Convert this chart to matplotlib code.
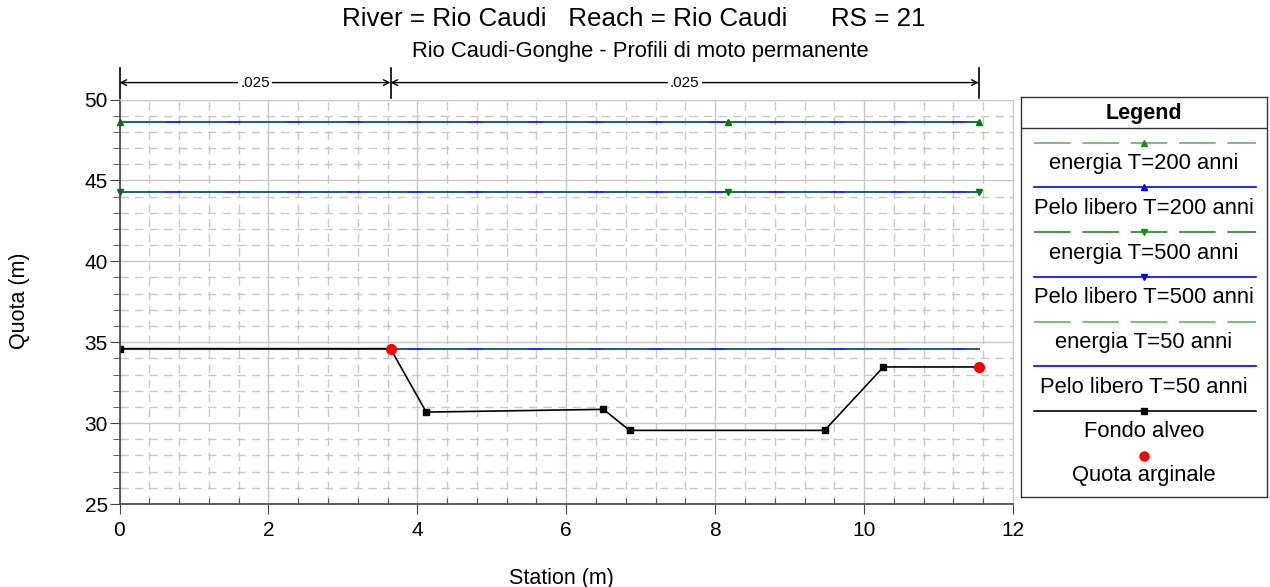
import numpy as np
import matplotlib
matplotlib.use('Agg')
import matplotlib.pyplot as plt
from matplotlib.ticker import MultipleLocator

plt.rcParams['font.family'] = ['Liberation Sans', 'DejaVu Sans']

# cross section data
station = [0.0, 3.64, 4.12, 6.50, 6.85, 9.47, 10.26, 11.54]
fondo = [34.60, 34.60, 30.68, 30.85, 29.55, 29.55, 33.47, 33.47]
argine_x = [3.64, 11.54]
argine_y = [34.60, 33.47]

# water surface / energy levels
ws_x = [0.0, 8.17, 11.54]
ws_200 = 48.62
ws_500 = 44.26
ws_50 = 34.60
en_200 = 48.62
en_500 = 44.26
en_50 = 34.60

# manning's n
n_breaks = [0.0, 3.64, 11.54]
n_values = ['.025', '.025']

fig = plt.figure(figsize=(12.7, 5.87), dpi=100)
ax = fig.add_axes([119.5 / 1270, 83 / 587, 893.5 / 1270, 404.5 / 587])

ax.set_xlim(0, 12)
ax.set_ylim(25, 50)
ax.xaxis.set_major_locator(MultipleLocator(2))
ax.xaxis.set_minor_locator(MultipleLocator(0.4))
ax.yaxis.set_major_locator(MultipleLocator(5))
ax.yaxis.set_minor_locator(MultipleLocator(1))

ax.grid(which='major', color='#c8c8c8', lw=1.0, ls='-')
ax.grid(which='minor', color='#c8c8c8', lw=1.0, ls=(0, (6, 4.5)))
ax.set_axisbelow(True)

for s in ['top', 'right']:
    ax.spines[s].set_color('#c8c8c8')
for s in ['left', 'bottom']:
    ax.spines[s].set_color('#444444')
    ax.spines[s].set_linewidth(1.2)

ax.tick_params(axis='both', which='major', labelsize=15, length=7,
               color='#444444', direction='out')
ax.tick_params(axis='y', which='major', pad=1.5)
ax.tick_params(axis='x', which='major', pad=5)
ax.tick_params(axis='x', which='minor', direction='in', length=4.5,
               color='#444444')
ax.tick_params(axis='y', which='minor', direction='out', length=5,
               color='#444444')

green = '#1f8a1f'
lgreen = '#5cb85c'
blue = '#0000ff'
dash = (0, (22, 7))

xs = [ws_x[0], ws_x[-1]]
# water surfaces
ax.plot(xs, [ws_200, ws_200], color=blue, lw=1.2)
ax.plot(xs, [ws_500, ws_500], color=blue, lw=1.2)
ax.plot(xs, [ws_50, ws_50], color=blue, lw=1.2)
# energy lines
ax.plot(xs, [en_200, en_200], color=green, lw=1.5, ls=dash, alpha=0.6)
ax.plot(xs, [en_500, en_500], color=green, lw=1.5, ls=dash, alpha=0.6)
ax.plot(xs, [en_50, en_50], color=green, lw=1.5, ls=dash, alpha=0.6)
ax.plot(ws_x, [en_200] * 3, ls='none', marker='^', ms=5, color='#007a00',
        clip_on=False)
ax.plot(ws_x, [en_500] * 3, ls='none', marker='v', ms=5, color='#007a00',
        clip_on=False)

# ground
ax.plot(station, fondo, color='black', lw=1.2, marker='s', ms=4.5)
ax.plot(argine_x, argine_y, ls='none', marker='o', ms=7, color='red')

# manning's n markers
tr = ax.get_xaxis_transform()
y_arr = 1.0418
for xb in n_breaks:
    ax.plot([xb, xb], [1.003, 1.078], transform=tr, color='black', lw=1.2,
            clip_on=False)
for i, val in enumerate(n_values):
    x0, x1 = n_breaks[i], n_breaks[i + 1]
    ax.annotate('', xy=(x0, y_arr), xytext=(x1, y_arr), xycoords=tr,
                textcoords=tr,
                arrowprops=dict(arrowstyle='<->', color='black', lw=1.0,
                                shrinkA=0, shrinkB=0))
    ax.text((x0 + x1) / 2, y_arr, val, transform=tr, ha='center',
            va='center', fontsize=11,
            bbox=dict(facecolor='white', edgecolor='none', pad=1.5))

ax.set_xlabel('Station (m)', fontsize=15.5)
ax.xaxis.set_label_coords(0.4945, -0.158)
ax.set_ylabel('Quota (m)', fontsize=15.5)
ax.yaxis.set_label_coords(-0.1005, 0.502)

fig.text(0.4988, 0.9676, 'River = Rio Caudi   Reach = Rio Caudi      RS = 21',
         ha='center', va='center', fontsize=18.7)
fig.text(0.504, 0.912, 'Rio Caudi-Gonghe - Profili di moto permanente',
         ha='center', va='center', fontsize=15.8)

# legend panel
lg = fig.add_axes([1021 / 1270, 90 / 587, 246 / 1270, 400 / 587])
lg.set_xlim(0, 246)
lg.set_ylim(400, 0)
lg.set_xticks([])
lg.set_yticks([])
for s in lg.spines.values():
    s.set_color('#333333')
    s.set_linewidth(1.0)
lg.axhline(31, color='#333333', lw=1.0)
lg.text(123, 16, 'Legend', ha='center', va='center', fontsize=15.5,
        fontweight='bold')

entries = [
    ('energia T=200 anni', lgreen, dash, '^', green),
    ('Pelo libero T=200 anni', blue, '-', '^', blue),
    ('energia T=500 anni', green, dash, 'v', green),
    ('Pelo libero T=500 anni', blue, '-', 'v', blue),
    ('energia T=50 anni', lgreen, dash, None, None),
    ('Pelo libero T=50 anni', blue, '-', None, None),
    ('Fondo alveo', 'black', '-', 's', 'black'),
]
y0 = 45.7
step = 44.7
for i, (lab, col, st, mk, mcol) in enumerate(entries):
    yl = y0 + i * step
    lg.plot([13, 235], [yl, yl], color=col, ls=st, lw=1.2)
    if mk is not None:
        lg.plot([123], [yl], marker=mk, ms=4.5, color=mcol)
    lg.text(123, yl + 21, lab, ha='center', va='center', fontsize=15.8)
yl = y0 + 7 * step
lg.plot([123], [yl], marker='o', ms=6.5, color='red')
lg.text(123, yl + 20, 'Quota arginale', ha='center', va='center',
        fontsize=15.8)

fig.savefig('out.png', dpi=100)
